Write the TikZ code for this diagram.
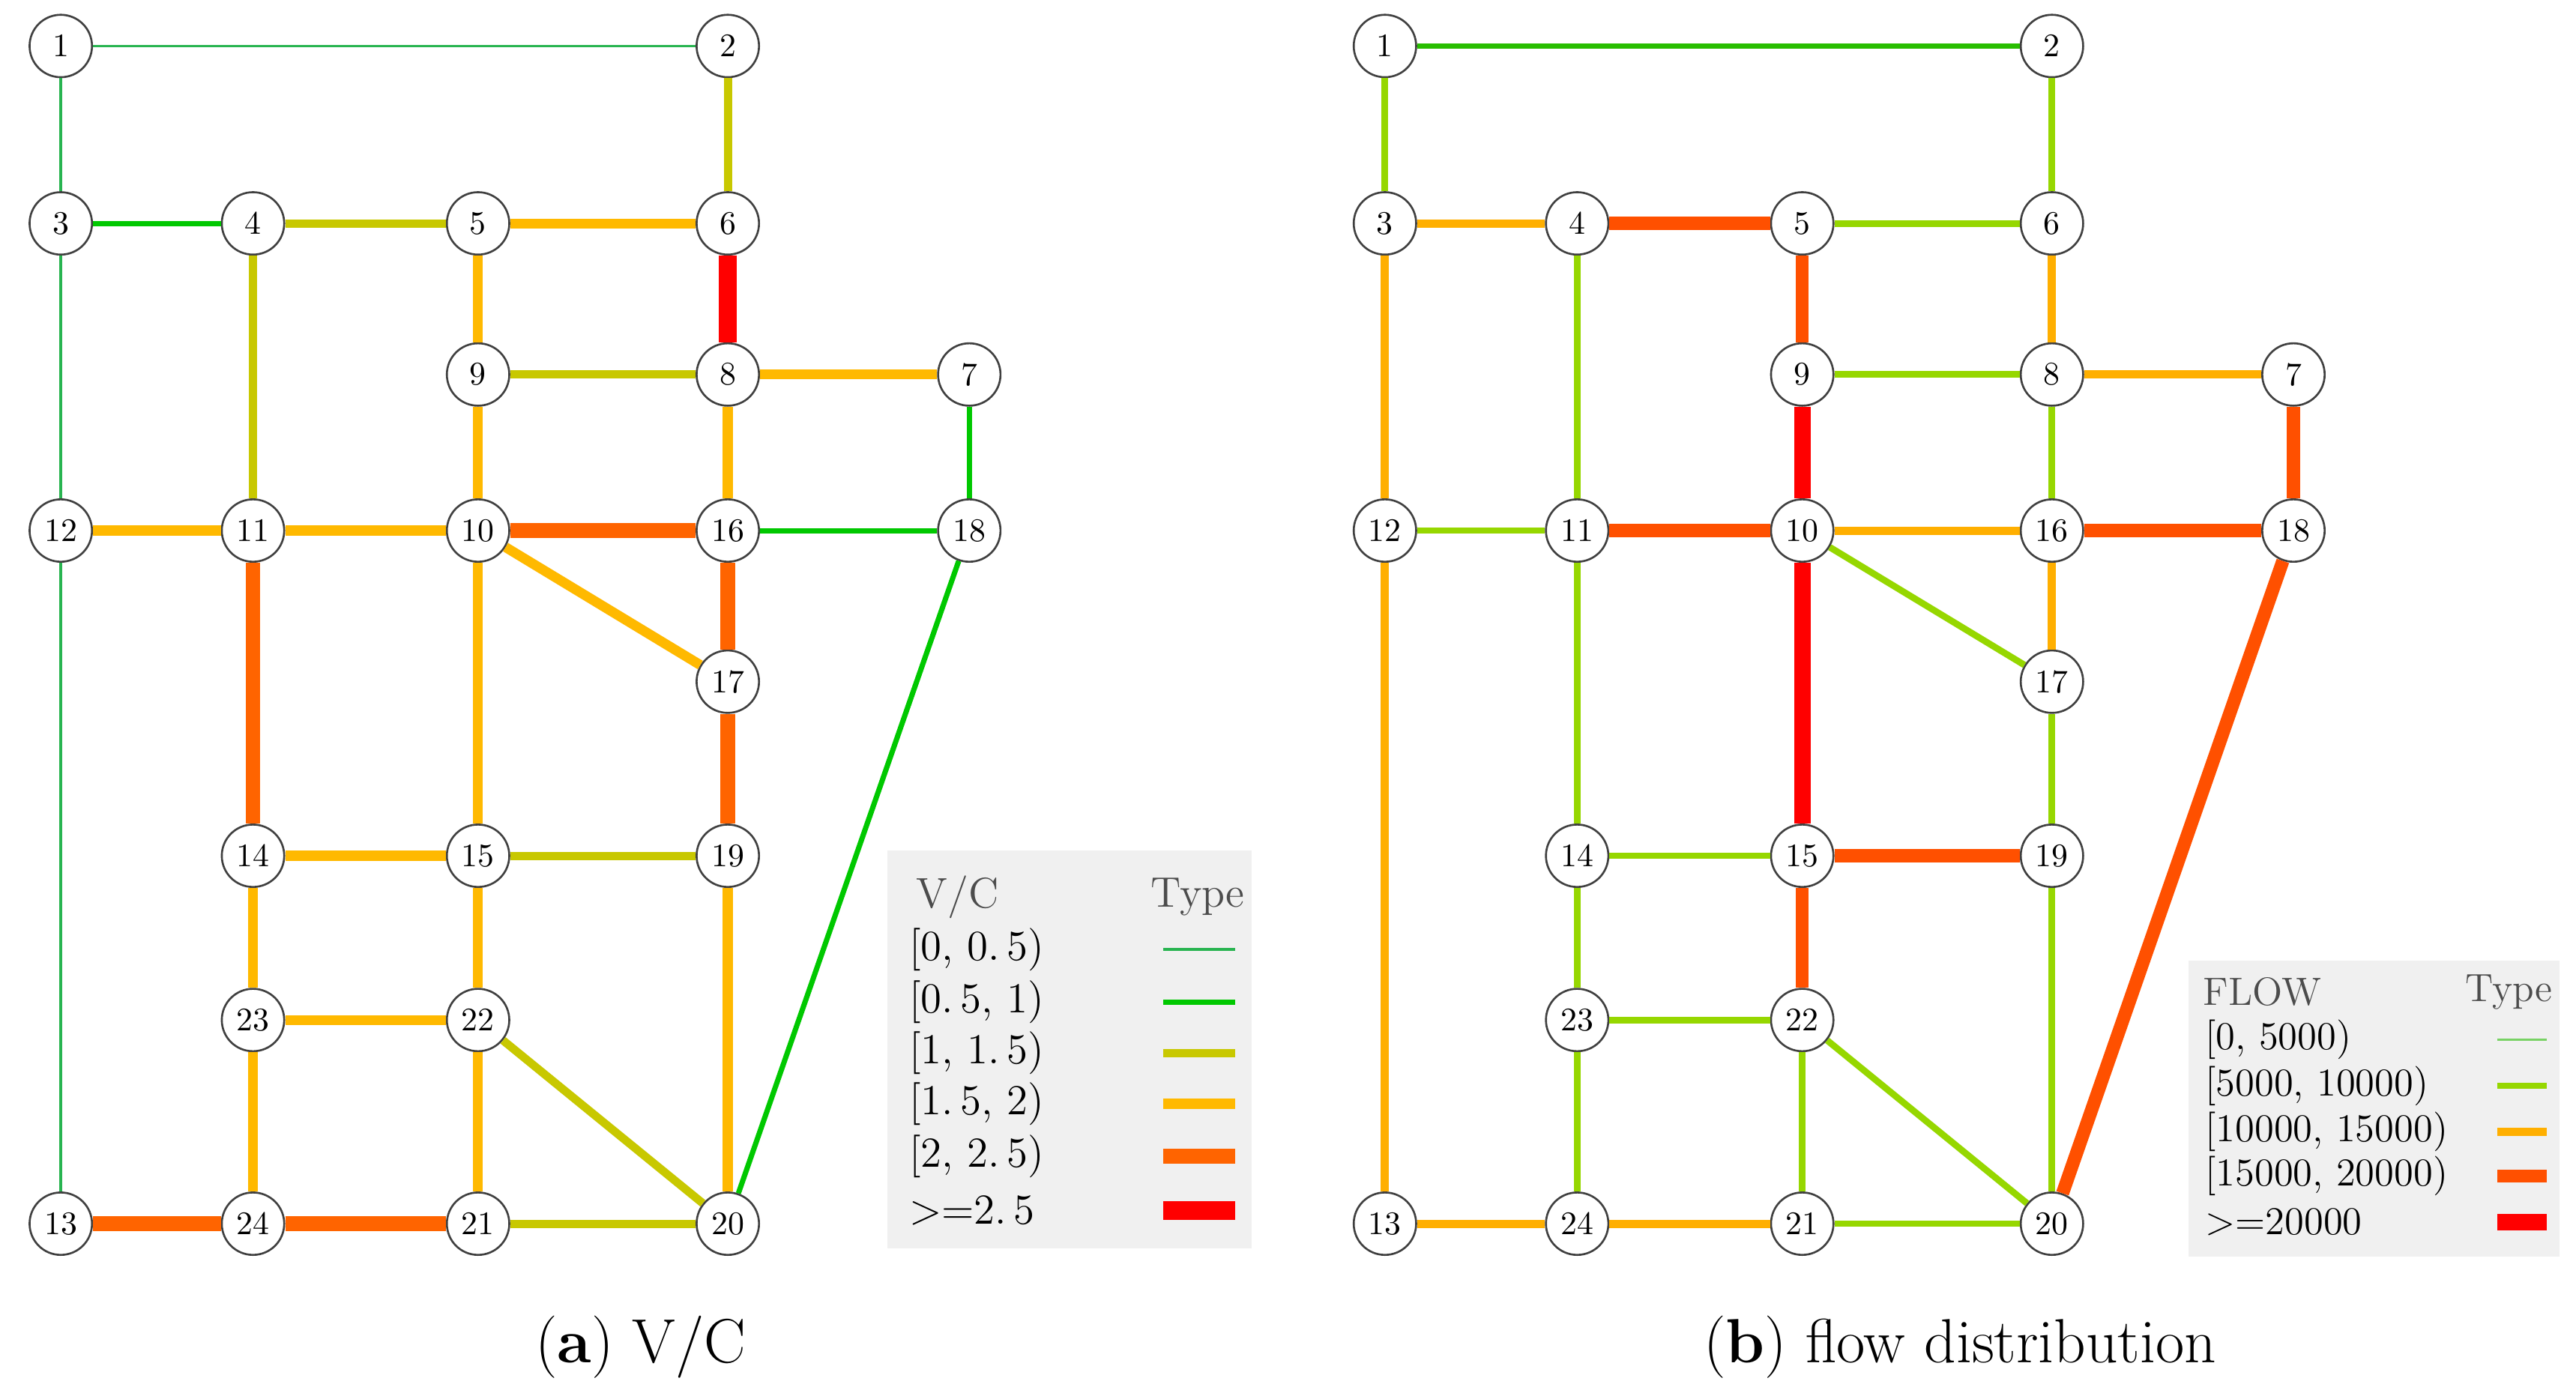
\documentclass[tikz,border=0pt]{standalone}
\begin{document}
\begin{tikzpicture}[x=0.5pt,y=-0.5pt,
  nd/.style={circle,draw=black!75,line width=0.6pt,fill=white,minimum size=19pt,inner sep=0pt,font=\fontsize{10}{10}\selectfont},
  c1/.style={draw={rgb,255:red,40;green,180;blue,80},line width=0.8pt},
  c2/.style={draw={rgb,255:red,0;green,200;blue,0},line width=1.6pt},
  c3/.style={draw={rgb,255:red,200;green,200;blue,0},line width=2.5pt},
  c4/.style={draw={rgb,255:red,255;green,185;blue,0},line width=3pt},
  c5/.style={draw={rgb,255:red,255;green,100;blue,0},line width=4.5pt},
  c6/.style={draw={rgb,255:red,255;green,0;blue,0},line width=5.5pt},
  b1/.style={draw={rgb,255:red,120;green,210;blue,100},line width=0.8pt},
  b2/.style={draw={rgb,255:red,150;green,215;blue,0},line width=2pt},
  b3/.style={draw={rgb,255:red,255;green,175;blue,0},line width=2.5pt},
  b4/.style={draw={rgb,255:red,255;green,80;blue,0},line width=4pt},
  b5/.style={draw={rgb,255:red,255;green,0;blue,0},line width=5pt},
  g2/.style={draw={rgb,255:red,40;green,190;blue,0},line width=1.6pt},
  leg/.style={fill={rgb,255:red,240;green,240;blue,240},draw=none},
  lt/.style={anchor=west,inner sep=0pt},
  hd/.style={text=black!70,inner sep=0pt},
  captxt/.style={font=\fontsize{19}{19}\selectfont,inner sep=0pt}]
\useasboundingbox (0,0) rectangle (1568,848);
\fill[white] (0,0) rectangle (1568,848);
\foreach \p/\dx in {a/0,b/806}{
  \foreach \n/\x/\y in {1/37/28,2/443/28,3/37/136,4/154/136,5/291/136,6/443/136,9/291/228,8/443/228,7/590/228,12/37/323,11/154/323,10/291/323,16/443/323,18/590/323,17/443/415,14/154/521,15/291/521,19/443/521,23/154/621,22/291/621,13/37/745,24/154/745,21/291/745,20/443/745}
    \node[nd] (\p\n) at (\x+\dx,\y) {\n};
}
\foreach \u/\v/\s in {1/2/c1,1/3/c1,2/6/c3,3/4/c2,3/12/c1,4/5/c3,5/6/c4,4/11/c3,5/9/c4,6/8/c6,9/8/c3,8/7/c4,7/18/c2,9/10/c4,8/16/c4,12/11/c4,11/10/c4,10/16/c5,16/18/c2,10/17/c4,16/17/c5,12/13/c1,11/14/c5,10/15/c4,17/19/c5,18/20/c2,14/15/c4,15/19/c3,19/20/c4,14/23/c4,15/22/c4,23/22/c4,22/20/c3,23/24/c4,22/21/c4,13/24/c5,24/21/c5,21/20/c3}
  \draw[\s] (a\u) -- (a\v);
\foreach \u/\v/\s in {1/2/g2,1/3/b2,2/6/b2,3/4/b3,4/5/b4,5/6/b2,3/12/b3,4/11/b2,5/9/b4,6/8/b3,9/8/b2,8/7/b3,7/18/b4,9/10/b5,8/16/b2,12/11/b2,11/10/b4,10/16/b3,16/18/b4,10/17/b2,16/17/b3,12/13/b3,11/14/b2,10/15/b5,17/19/b2,18/20/b4,14/15/b2,15/19/b4,19/20/b2,14/23/b2,15/22/b4,23/22/b2,22/20/b2,23/24/b2,22/21/b2,13/24/b3,24/21/b3,21/20/b2}
  \draw[\s] (b\u) -- (b\v);
% legend a
\node[leg,minimum width=111pt,minimum height=121pt,inner sep=0pt] (la) at (651,639) {};
\begin{scope}[font=\fontsize{13}{13}\selectfont]
\node[hd] (lah) at (583,546) {V/C};
\node[hd] (lat) at (729,546) {Type};
\foreach \t/\y/\s [count=\i] in {{[0, 0.\,5)}/578/c1,{[0.\,5, 1)}/610/c2,{[1, 1.\,5)}/641/c3,{[1.\,5, 2)}/672/c4,{[2, 2.\,5)}/704/c5,{>=2.\,5}/737/c6}{
  \node[lt] (lta\i) at (553,\y) {\t};
  \coordinate (lsa\i) at (708,\y); \coordinate (lea\i) at (752,\y);
  \draw[\s] (lsa\i) -- (lea\i);}
\end{scope}
% legend b
\node[leg,minimum width=113pt,minimum height=90pt,inner sep=0pt] (lb) at (1445,675) {};
\begin{scope}[font=\fontsize{12}{12}\selectfont]
\node[hd] (lbh) at (1377,604) {FLOW};
\node[hd] (lbt) at (1527,604) {Type};
\foreach \t/\y/\s [count=\i] in {{[0, 5000)}/633/b1,{[5000, 10000)}/661/b2,{[10000, 15000)}/689/b3,{[15000, 20000)}/716/b4,{>=20000}/744/b5}{
  \node[lt] (ltb\i) at (1342,\y) {\t};
  \coordinate (lsb\i) at (1520,\y); \coordinate (leb\i) at (1550,\y);
  \draw[\s] (lsb\i) -- (leb\i);}
\end{scope}
\node[captxt] (capa) at (390,820) {(\textbf{a}) V/C};
\node[captxt] (capb) at (1193,820) {(\textbf{b}) flow distribution};
\end{tikzpicture}
\end{document}
